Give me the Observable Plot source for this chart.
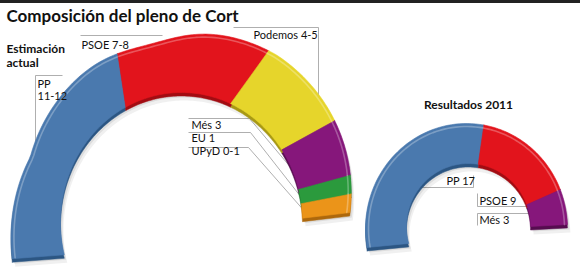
<!DOCTYPE html>
<html><head><meta charset="utf-8">
<script src="https://cdn.jsdelivr.net/npm/d3@7"></script>
<script src="https://cdn.jsdelivr.net/npm/@observablehq/plot@0.6"></script>
<style>
body{margin:0;background:#fff;}
#chart svg{display:block;}
g[aria-label="title"] text{letter-spacing:-0.6px;}
g[aria-label="heading"] text{letter-spacing:-0.3px;}
</style>
</head><body><div id="chart"></div>
<script>
// ---- Data ----
const chartTitle = "Composición del pleno de Cort";
const estTitle = ["Estimación", "actual"];
const estParties = ["PP", "PSOE", "Podemos", "Més", "EU", "UPyD"];
const estLow = [11, 7, 4, 3, 1, 0];
const estHigh = [12, 8, 5, 3, 1, 1];
const estLabels = ["PP 11-12", "PSOE 7-8", "Podemos 4-5", "Més 3", "EU 1", "UPyD 0-1"];
const resTitle = "Resultados 2011";
const resParties = ["PP", "PSOE", "Més"];
const resSeats = [17, 9, 3];
const resLabels = ["PP 17", "PSOE 9", "Més 3"];

// ---- Styles ----
const face = {PP: "#4a79ae", PSOE: "#e2141c", Podemos: "#e6d52b", "Més": "#86177b", EU: "#2b9a3d", UPyD: "#eb9419"};
const side = {PP: "#2c5683", PSOE: "#a20c12", Podemos: "#a89914", "Més": "#560c4f", EU: "#1b6a29", UPyD: "#ad680c"};

// ---- Layout (ring geometry, label anchors) ----
const rad = Math.PI / 180;
// left ring: outer edge drawn in perspective (radius flares toward the bottom-left end)
const estGeo = {
  outer: (a, inset = 0) => {
    let r = 168;
    if (a > 165) r += (a - 165) * 0.65;
    if (a < 60) r -= (60 - a) * 0.16;
    r -= 6 * Math.exp(-(((a - 105) / 15) ** 2));
    r -= inset;
    return [192 + r * Math.cos(a * rad), 200 - r * Math.sin(a * rad)];
  },
  inner: a => [181 + 121 * Math.cos(a * rad), 222 - 130 * Math.sin(a * rad)],
  oStart: 197.9, oEnd: -4.4, iStart: 194.4, iEnd: 1.9
};
const resGeo = {
  outer: (a, inset = 0) => [466 + (101 - inset) * Math.cos(a * rad), 228 - (105 - inset) * Math.sin(a * rad)],
  inner: a => [468 + 62 * Math.cos(a * rad), 226 - 63 * Math.sin(a * rad)],
  oStart: 190.4, oEnd: 2.2, iStart: 195.6, iEnd: 0
};

function ring(parties, seats, g) {
  const total = d3.sum(seats);
  let cum = 0;
  return parties.map((p, i) => {
    const f0 = cum / total; cum += seats[i]; const f1 = cum / total;
    const oa0 = g.oStart + (g.oEnd - g.oStart) * f0, oa1 = g.oStart + (g.oEnd - g.oStart) * f1;
    const ia0 = g.iStart + (g.iEnd - g.iStart) * f0, ia1 = g.iStart + (g.iEnd - g.iStart) * f1;
    const n = 48, poly = [], rim = [];
    for (let k = 0; k <= n; k++) {
      const a = oa0 + (oa1 - oa0) * k / n;
      const [x, y] = g.outer(a);
      poly.push({x, y});
      const [rx, ry] = g.outer(a, 3);
      rim.push({x: rx, y: ry});
    }
    for (let k = n; k >= 0; k--) {
      const [x, y] = g.inner(ia0 + (ia1 - ia0) * k / n);
      poly.push({x, y});
    }
    poly.push(poly[0]);
    return {party: p, poly, rim};
  });
}

// the estimate ring is drawn with the upper end of each range
const estRing = ring(estParties, estHigh, estGeo);
const resRing = ring(resParties, resSeats, resGeo);

// label anchors (baseline positions) and leader paths
const estLabelPos = {
  "PSOE 7-8": [81, 48], "Podemos 4-5": [253, 38],
  "Més 3": [191, 128], "EU 1": [191, 141], "UPyD 0-1": [191, 154]
};
const estLeaders = [
  [[62, 75], [35, 75], [35, 165]],
  [[80, 35], [162, 35]],
  [[233, 27], [318, 27], [318, 125]],
  [[188, 118], [249, 118], [297, 175]],
  [[188, 132], [250, 132], [304, 201]],
  [[188, 147], [248, 147], [306, 213]]
];
const resLabelPos = {"PP 17": [446, 184], "PSOE 9": [479, 204], "Més 3": [479, 223]};
const resLeaders = [
  [[473, 175], [473, 187], [415, 187]],
  [[477, 193], [477, 206], [529, 206]],
  [[477, 225], [477, 213], [533, 213]]
];

const marks = [];
// top bar
marks.push(Plot.ruleY([0], {stroke: "#222", strokeWidth: 5}));
// leaders (behind rings)
for (const L of [...estLeaders, ...resLeaders]) {
  marks.push(Plot.line(L.map(([x, y]) => ({x, y})), {x: "x", y: "y", stroke: "#9a9a9a", strokeWidth: 0.8, strokeLinecap: "butt", strokeLinejoin: "miter"}));
}
// rings: soft shadow, darker side, face, rim highlight
for (const seg of [...estRing, ...resRing]) {
  marks.push(Plot.line(seg.poly, {x: "x", y: "y", fill: "#000", fillOpacity: 0.06, stroke: "none", dx: 3, dy: 8}));
  marks.push(Plot.line(seg.poly, {x: "x", y: "y", fill: "#000", fillOpacity: 0.08, stroke: "none", dx: 2, dy: 5}));
}
for (const seg of [...estRing, ...resRing]) {
  marks.push(Plot.line(seg.poly, {x: "x", y: "y", fill: side[seg.party], stroke: side[seg.party], strokeWidth: 0.5, dy: 3.5}));
}
for (const seg of [...estRing, ...resRing]) {
  marks.push(Plot.line(seg.poly, {x: "x", y: "y", fill: face[seg.party], stroke: face[seg.party], strokeWidth: 0.6}));
  marks.push(Plot.line(seg.rim, {x: "x", y: "y", stroke: "#fff", strokeOpacity: 0.28, strokeWidth: 1.6}));
}
// texts
const font = "Lato, 'Open Sans', sans-serif";
const ink = "#111";
marks.push(Plot.text([chartTitle], {x: 6, y: 21, text: d => d, textAnchor: "start", lineAnchor: "bottom", fontSize: 17, fontWeight: 700, fill: ink, fontFamily: font, ariaLabel: "title"}));
marks.push(Plot.text(estTitle, {x: 6, y: (d, i) => 52 + i * 14, text: d => d, textAnchor: "start", lineAnchor: "bottom", fontSize: 12, fontWeight: 700, fill: ink, fontFamily: font, ariaLabel: "heading"}));
marks.push(Plot.text([resTitle], {x: 468, y: 108, text: d => d, textAnchor: "middle", lineAnchor: "bottom", fontSize: 12, fontWeight: 700, fill: ink, fontFamily: font, ariaLabel: "heading"}));
// PP label on two lines
const ppParts = estLabels[0].split(" ");
marks.push(Plot.text(ppParts, {x: 37, y: (d, i) => 87 + i * 12, text: d => d, textAnchor: "start", lineAnchor: "bottom", fontSize: 11, fill: ink, fontFamily: font}));
const estRest = estLabels.slice(1);
marks.push(Plot.text(estRest, {x: d => estLabelPos[d][0], y: d => estLabelPos[d][1], text: d => d, textAnchor: "start", lineAnchor: "bottom", fontSize: 11, fill: ink, fontFamily: font}));
marks.push(Plot.text(resLabels, {x: d => resLabelPos[d][0], y: d => resLabelPos[d][1], text: d => d, textAnchor: "start", lineAnchor: "bottom", fontSize: 11, fill: ink, fontFamily: font}));

const chart = Plot.plot({
  width: 580, height: 273,
  marginTop: 0, marginRight: 0, marginBottom: 0, marginLeft: 0,
  x: {domain: [0, 580], range: [0, 580], axis: null},
  y: {domain: [0, 273], range: [0, 273], axis: null},
  style: {background: "#fff", overflow: "visible"},
  marks
});
document.getElementById("chart").appendChild(chart);
</script>
</body></html>
